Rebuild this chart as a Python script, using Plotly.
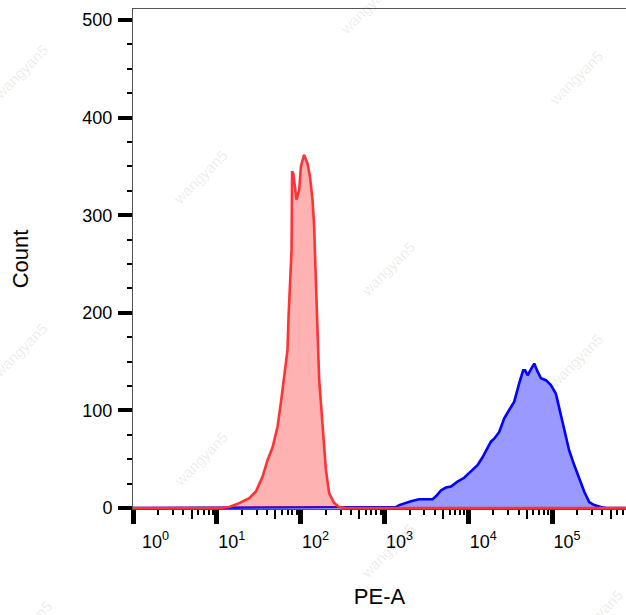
import plotly.graph_objects as go

# ---- data (PE-A intensity, count) ----
red_pe = [1, 10.7, 14.1, 18.5, 24.4, 29.3, 35.1, 40.3, 46.2, 53.0, 58.2, 62.5, 65.5,
          69.8, 71.8, 75.2, 78.0, 79.1, 81.7, 89.3, 96.2, 100.9, 109.9, 120.8, 129.1,
          138.7, 145.2, 149.3, 152.4, 156.7, 162.2, 166.7, 174.6, 186.2, 200.4, 219.3,
          251.8, 289.1, 347.5, 800000]
red_count = [0, 0, 1, 5, 10, 17, 32, 49, 62, 83, 108, 131, 141,
             162, 196, 230, 264, 345, 343, 316, 326, 350, 362, 353, 340,
             316, 288, 254, 231, 196, 162, 131, 108, 73, 39, 15,
             5, 1, 0, 0]

blue_pe = [1, 828, 1371, 1503, 1722, 2070, 2600, 3750, 4121, 4721, 5420, 6223, 7447,
           8954, 10280, 11780, 12910, 14830, 16980, 18660, 20420, 22390, 23440, 26920,
           30830, 35400, 40640, 45290, 47860, 51050, 55980, 61380, 67140, 73790, 84530,
           97050, 111400, 121900, 140000, 160300, 184100, 211300, 242100, 278000,
           319200, 383700, 446700, 800000]
blue_count = [0, 1, 1, 3, 5, 7, 9, 9, 12, 18, 21, 22, 27,
              31, 36, 41, 44, 52, 61, 68, 71, 76, 78, 92,
              100, 109, 128, 141, 141, 136, 142, 148, 140, 133, 131,
              126, 117, 102, 80, 59, 44, 30, 17, 6,
              3, 1, 0, 0]

decades = [0, 1, 2, 3, 4, 5]
x_tick_text = ["10<sup>%d</sup>" % d for d in decades]
x_tick_text[0] = "\u00a0\u00a0\u00a0" + x_tick_text[0]
y_ticks = [0, 100, 200, 300, 400, 500]

# watermark centres in page pixels
watermark_px = [(20, 72), (575, 78), (200, 178), (387, 269), (20, 351), (575, 361),
                (200, 459), (387, 551), (367, 8), (595, 617), (24, 628)]

# ---- layout geometry (body margin removed below, so page px == figure px) ----
W, H = 626, 615
ML, MR, MT, MB = 133, 0, 9, 106
XR = [0, 5.883]
YR = [-1, 511.3]

fig = go.Figure()
fig.add_trace(go.Scatter(
    x=blue_pe, y=blue_count, mode="lines", fill="tozeroy",
    line=dict(color="#0000FF", width=2.6), fillcolor="rgba(0,0,255,0.4)",
    hoverinfo="skip", showlegend=False))
fig.add_trace(go.Scatter(
    x=red_pe, y=red_count, mode="lines", fill="tozeroy",
    line=dict(color="#FF3333", width=2.6), fillcolor="rgba(255,0,0,0.3)",
    hoverinfo="skip", showlegend=False))
# helper (invisible) trace so that the secondary tick axis is drawn
fig.add_trace(go.Scatter(x=[1], y=[0], xaxis="x2", mode="none",
                         hoverinfo="skip", showlegend=False))

minor_vals = [m * 10 ** d for d in range(0, 6) for m in (2, 3, 4, 6, 7, 8, 9)]
mid_vals = [5 * 10 ** d for d in range(0, 6)]

font = "Liberation Sans, Arial, sans-serif"

fig.update_layout(
    width=W, height=H,
    margin=dict(l=ML, r=MR, t=MT, b=MB),
    paper_bgcolor="white", plot_bgcolor="white",
    font=dict(family=font, color="black"),
    xaxis=dict(
        type="log", range=XR, showgrid=False, zeroline=False,
        tickmode="array", tickvals=[10 ** d for d in decades], ticktext=x_tick_text,
        ticks="outside", ticklen=14, tickwidth=5, tickcolor="black",
        tickfont=dict(size=18, color="black"), ticklabelshift=15,
        ticklabelstandoff=2,
        minor=dict(tickmode="array", tickvals=minor_vals, ticks="outside",
                   ticklen=5, tickwidth=2, tickcolor="black"),
        showline=True, linecolor="#555555", linewidth=1, mirror=True,
        title=dict(text="\u00a0PE-A", font=dict(size=22), standoff=38),
    ),
    xaxis2=dict(
        type="log", range=XR, overlaying="x", anchor="y", side="bottom",
        showgrid=False, zeroline=False, showline=False, showticklabels=False,
        tickmode="array", tickvals=mid_vals, ticks="outside", ticklen=9,
        tickwidth=2, tickcolor="black",
    ),
    yaxis=dict(
        range=YR, showgrid=False, zeroline=False,
        tickmode="array", tickvals=y_ticks,
        ticks="outside", ticklen=14, tickwidth=4, tickcolor="black",
        tickfont=dict(size=18, color="black"), ticklabelstandoff=2,
        minor=dict(dtick=25, tick0=0, ticks="outside", ticklen=5, tickwidth=2,
                   tickcolor="black"),
        showline=True, linecolor="#555555", linewidth=1, mirror=False,
        title=dict(text="Count", font=dict(size=22), standoff=47),
    ),
)

for (px, py) in watermark_px:
    fig.add_annotation(
        x=(px - ML) / (W - ML - MR), y=(H - MB - py) / (H - MT - MB),
        xref="paper", yref="paper", text="wangyan5", showarrow=False,
        textangle=-45, font=dict(size=15, color="rgba(0,0,0,0.09)", family=font),
        xanchor="center", yanchor="middle")

fig.write_html("out.html",
               config={"displayModeBar": False},
               post_script="document.body.style.margin='0';"
                           "document.body.style.overflow='hidden';")
